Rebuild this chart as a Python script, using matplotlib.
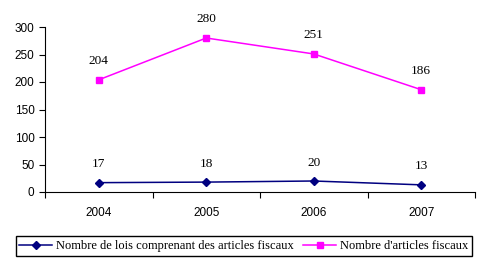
import matplotlib.pyplot as plt
from matplotlib.ticker import FixedLocator, NullFormatter, FixedFormatter

annees = ['2004', '2005', '2006', '2007']
nb_lois = [17, 18, 20, 13]
nb_articles = [204, 280, 251, 186]

fig = plt.figure(figsize=(4.9, 2.66), dpi=100)
ax = fig.add_axes([45 / 490, (266 - 192) / 266, 430 / 490, 165 / 266])

x = list(range(len(annees)))
ax.plot(x, nb_lois, color='#000080', marker='D', markersize=4.5, linewidth=1.1,
        label='Nombre de lois comprenant des articles fiscaux')
ax.plot(x, nb_articles, color='#FF00FF', marker='s', markersize=5, linewidth=1.1,
        label="Nombre d'articles fiscaux")

# etiquettes de valeurs au-dessus des points
serif = ['Liberation Serif', 'DejaVu Serif']
for xi, v in zip(x, nb_lois):
    ax.annotate(str(v), (xi, v), xytext=(0, 9), textcoords='offset points',
                ha='center', va='bottom', fontsize=9.5, family=serif)
for xi, v in zip(x, nb_articles):
    ax.annotate(str(v), (xi, v), xytext=(0, 9), textcoords='offset points',
                ha='center', va='bottom', fontsize=9.5, family=serif)

ax.set_xlim(-0.5, 3.5)
ax.set_ylim(0, 300)
ax.set_yticks([0, 50, 100, 150, 200, 250, 300])
# graduations entre les categories, libelles au centre
ax.xaxis.set_major_locator(FixedLocator([-0.5, 0.5, 1.5, 2.5, 3.5]))
ax.xaxis.set_major_formatter(NullFormatter())
ax.xaxis.set_minor_locator(FixedLocator(x))
ax.xaxis.set_minor_formatter(FixedFormatter(annees))
ax.tick_params(axis='x', which='major', length=4, direction='out')
ax.tick_params(axis='x', which='minor', length=0, pad=11)
ax.tick_params(axis='y', length=4, direction='out')
for lab in ax.get_xticklabels(minor=True) + ax.get_yticklabels():
    lab.set_fontsize(8.5)
    lab.set_family(['Liberation Sans', 'DejaVu Sans'])
ax.spines['top'].set_visible(False)
ax.spines['right'].set_visible(False)

leg = fig.legend(loc='center', bbox_to_anchor=(243.5 / 490, 1 - 246 / 266), ncol=2,
                 frameon=True, fancybox=False, edgecolor='black', framealpha=1,
                 prop={'family': serif, 'size': 9}, handlelength=2.6,
                 columnspacing=0.8, handletextpad=0.3, borderpad=0.3,
                 borderaxespad=0)
leg.get_frame().set_linewidth(1)

fig.savefig('out.png', dpi=100)
